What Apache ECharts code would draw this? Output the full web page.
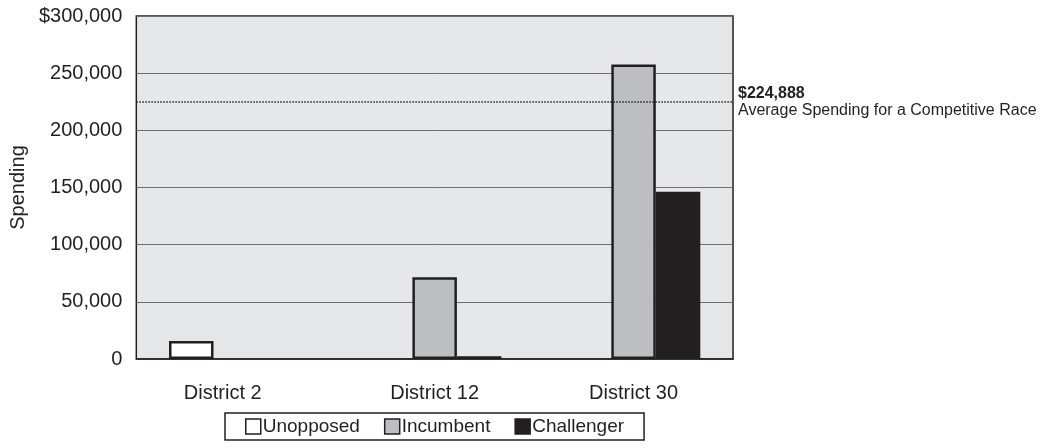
<!DOCTYPE html>
<html>
<head>
<meta charset="utf-8">
<script src="https://cdn.jsdelivr.net/npm/echarts@6/dist/echarts.min.js"></script>
<style>
  html, body { margin: 0; padding: 0; background: #ffffff; }
  #chart { width: 1044px; height: 448px; }
</style>
</head>
<body>
<div id="chart"></div>
<script>
// Campaign spending by district and candidate type
const categories = ['District 2', 'District 12', 'District 30'];
const unopposed  = [15700, null, null];
const incumbent  = [null, 71500, 257500];
const challenger = [null, 2500, 146300];
const competitiveAverage = 224888;
const yTickLabels = ['0', '50,000', '100,000', '150,000', '200,000', '250,000', '$300,000'];

const fontFamily = '"Liberation Sans", Arial, Helvetica, sans-serif';
const ink = '#231f20';

function barSeries(name, data, color) {
  return {
    name: name,
    type: 'bar',
    data: data,
    barWidth: 44.5,
    barGap: '0%',
    itemStyle: { color: color, borderColor: ink, borderWidth: 2.5 }
  };
}

const fmt = n => n.toLocaleString('en-US');

const chart = echarts.init(document.getElementById('chart'));
chart.setOption({
  animation: false,
  textStyle: { fontFamily: fontFamily },
  grid: {
    left: 134, right: 311, top: 16, bottom: 89,
    show: true, backgroundColor: '#e6e7e8', borderColor: ink, borderWidth: 1.5
  },
  legend: {
    top: 413,
    left: 225,
    data: ['Unopposed', 'Incumbent', 'Challenger'],
    icon: 'rect',
    itemWidth: 15,
    itemHeight: 15,
    itemGap: 24,
    padding: [4, 20, 4, 20],
    borderColor: ink,
    borderWidth: 1.5,
    backgroundColor: '#ffffff',
    itemStyle: { borderColor: ink, borderWidth: 1.5 },
    textStyle: { fontSize: 19, color: ink, fontFamily: fontFamily, padding: [0, 0, 0, -3] }
  },
  xAxis: {
    type: 'category',
    data: categories,
    axisLine: { show: true, lineStyle: { color: ink, width: 1.5 } },
    axisTick: { show: false },
    axisLabel: {
      fontSize: 20,
      color: ink,
      margin: 24,
      // the first district label sits a little left of its band centre
      formatter: (v, i) => (i === 0 ? '{first|' + v + '}' : v),
      rich: {
        first: { fontSize: 20, color: ink, fontFamily: fontFamily, padding: [0, 26, 0, 0] }
      }
    }
  },
  yAxis: {
    type: 'value',
    min: 0,
    max: 300000,
    interval: 50000,
    name: 'Spending',
    nameLocation: 'middle',
    nameGap: 104,
    nameTextStyle: { fontSize: 20, color: ink },
    axisLine: { show: false },
    axisTick: { show: false },
    axisLabel: {
      fontSize: 20,
      color: ink,
      margin: 14,
      formatter: (v) => yTickLabels[Math.round(v / 50000)]
    },
    splitLine: { lineStyle: { color: '#6d6e71', width: 1 } }
  },
  series: [
    barSeries('Unopposed', unopposed, '#ffffff'),
    barSeries('Incumbent', incumbent, '#bdbec2'),
    Object.assign(barSeries('Challenger', challenger, ink), {
      markLine: {
        silent: true,
        symbol: 'none',
        lineStyle: { type: 'dotted', color: ink, width: 1.5 },
        data: [{ yAxis: competitiveAverage }],
        label: {
          position: 'end',
          distance: 5,
          formatter: () => '{b|$' + fmt(competitiveAverage) + '}\n{n|Average Spending for a Competitive Race}',
          rich: {
            b: { fontSize: 16, fontWeight: 'bold', color: ink, fontFamily: fontFamily, lineHeight: 17 },
            n: { fontSize: 16, color: ink, fontFamily: fontFamily, lineHeight: 17 }
          }
        }
      }
    })
  ]
});
</script>
</body>
</html>
